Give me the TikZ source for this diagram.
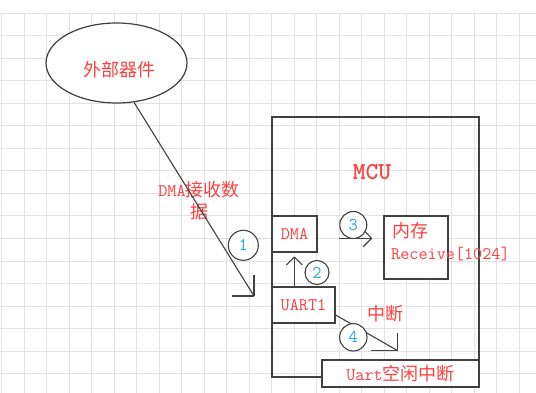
\documentclass[tikz,border=0pt]{standalone}
\usepackage{fontspec}
\newfontfamily\cjkf{Noto Sans CJK SC}
\usetikzlibrary{shapes.geometric}
\definecolor{txtred}{HTML}{FF4040}
\definecolor{numblue}{HTML}{22A8E8}
\definecolor{lin}{HTML}{404040}
\definecolor{gridc}{HTML}{E2E2E2}
\newcommand{\zh}[1]{{\cjkf\fontsize{18}{22}\selectfont #1}}
\newcommand{\la}[1]{{\ttfamily\fontsize{17.7}{22}\selectfont #1}}
\begin{document}
\begin{tikzpicture}[x=1pt,y=-1pt,
  box/.style={draw=lin, line width=1.3pt, fill=white, rectangle, inner sep=0pt, text=txtred},
  lbl/.style={text=txtred, inner sep=0pt, font=\fontsize{18}{22}\selectfont},
  num/.style={draw=lin, line width=1.1pt, fill=white, circle, inner sep=0pt, text=numblue, font=\ttfamily\fontsize{18}{18}\selectfont},
  conn/.style={draw=lin, line width=1.1pt},
  gridline/.style={draw=gridc, line width=1pt}]
\fill[white] (0,0) rectangle (536,393);
\useasboundingbox (0,0) rectangle (536,393);
% grid
\foreach \i in {0,...,23} {\draw[gridline] (1.7+22.5*\i,13.5) -- (1.7+22.5*\i,393);}
\foreach \j in {0,...,16} {\draw[gridline] (0,13.5+22.5*\j) -- (536,13.5+22.5*\j);}
% external device
\node[ellipse, draw=lin, line width=1.2pt, fill=white, minimum width=141pt, minimum height=80pt, inner sep=0pt] (ext) at (116.5,63) {};
\node[lbl] (extl) at (119.7,70) {\zh{外部器件}};
% MCU
\node[box, fill=none, minimum width=207pt, minimum height=260pt] (mcu) at (375.5,247) {};
\node[lbl, font=\ttfamily\bfseries\fontsize{24.4}{26}\selectfont] (mcul) at (372,172) {MCU};
\node[box, minimum width=45pt, minimum height=36pt] (dma) at (294.5,234) {\la{DMA}};
\node[box, minimum width=63pt, minimum height=36pt] (uart) at (303.5,305) {\la{UART1}};
\node[box, minimum width=64pt, minimum height=63pt] (mem) at (416,247.5) {};
\node[lbl] (meml) at (410,231) {\zh{内存}};
\node[lbl, anchor=west] (recv) at (391,254) {\la{Receive[1024]}};
\node[box, minimum width=157pt, minimum height=27pt] (idle) at (400.5,373.5) {\la{Uart}\zh{空闲中断}};
\node[lbl] (intl) at (385,314) {\zh{中断}};
\node[lbl, align=center] (dmal) at (199,201) {\la{DMA}\zh{接收数}\\\zh{据}};
% connectors
\coordinate (t1) at (254,296);
\draw[conn] (ext.-66) -- (t1);
\draw[conn] (t1) -- ++(0,-21);
\draw[conn] (t1) -- ++(-22,0);
\coordinate (t2) at (294.3,257);
\draw[conn] (t2 |- uart.north) -- (t2);
\draw[conn] (t2) -- ++(-8,8);
\draw[conn] (t2) -- ++(8,8);
\coordinate (s3) at (339.3,238.3);
\coordinate (t3) at (371.7,238.3);
\draw[conn] (s3) -- (t3);
\draw[conn] (t3) -- ++(-8.4,-8.4);
\draw[conn] (t3) -- ++(-8.4,8.4);
\coordinate (t4) at (397.7,350.7);
\draw[conn] ([yshift=-10pt]uart.east) -- (t4);
\draw[conn] (t4) -- ++(0,-17.4);
\draw[conn] (t4) -- ++(-27,0);
% numbered circles
\node[num, minimum size=30pt] (c1) at (243.3,245.3) {1};
\node[num, minimum size=24pt] (c2) at (317,272.5) {2};
\node[num, minimum size=27pt] (c3) at (353.3,225) {3};
\node[num, minimum size=27.4pt] (c4) at (353.3,337.3) {4};
\end{tikzpicture}
\end{document}
